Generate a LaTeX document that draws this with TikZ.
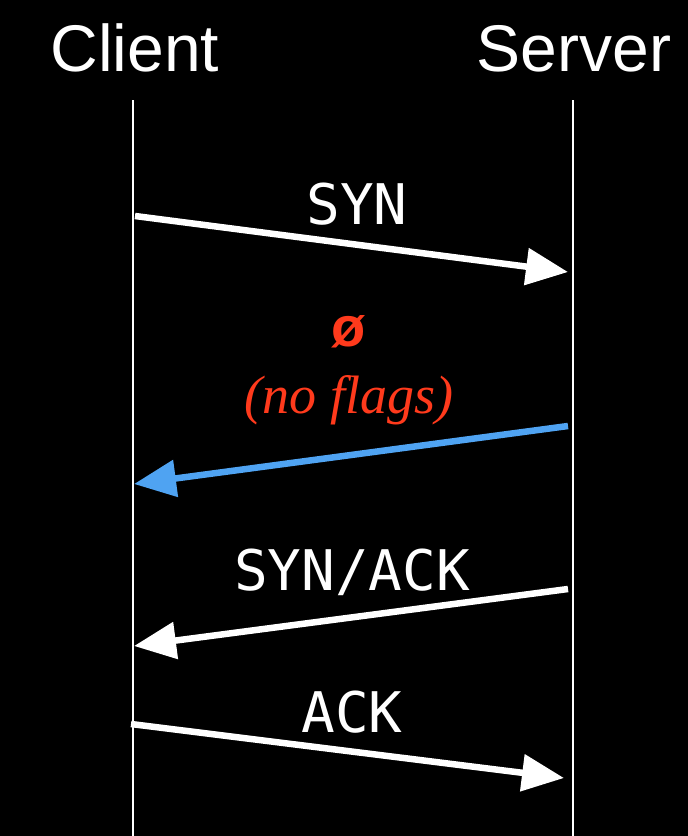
\documentclass[tikz,border=0pt]{standalone}
\usepackage{fontspec}
\setmainfont{Liberation Serif}
\newfontfamily\hssans{Liberation Sans}
\newfontfamily\hsmono{DejaVu Sans Mono}
\usetikzlibrary{arrows.meta}
\definecolor{hsvermelho}{HTML}{FF3A1C}
\definecolor{hsazul}{HTML}{4FA3F2}
\tikzset{
  hsparte/.style={text=white, font=\hssans\fontsize{66}{66}\selectfont, anchor=base, inner sep=0pt},
  hsrotulo/.style={text=white, font=\hsmono\fontsize{56}{56}\selectfont, anchor=base, inner sep=0pt},
  hsnota/.style={text=hsvermelho, anchor=base, inner sep=0pt},
  hsvida/.style={draw=white, line width=2.2pt},
  hsseta/.style={-{Triangle[length=42pt,width=36pt]}, line width=6.5pt, draw=white},
  hssetaazul/.style={hsseta, draw=hsazul},
}
\begin{document}
\begin{tikzpicture}[x=1pt, y=-1pt]
    % fundo
    \fill[black] (0,0) rectangle (688,836);
    \useasboundingbox (0,0) rectangle (688,836);
    % participantes
    \node[hsparte] (client) at (135,71) {Client};
    \node[hsparte] (server) at (574,71) {Server};
    % linhas de vida
    \coordinate (ctopo) at (133,100);
    \coordinate (cbase) at (133,836);
    \coordinate (stopo) at (573,100);
    \coordinate (sbase) at (573,836);
    \draw[hsvida] (ctopo) -- (cbase);
    \draw[hsvida] (stopo) -- (sbase);
    % pontos das mensagens
    \coordinate (c1) at (135,216);
    \coordinate (s1) at (568,272);
    \coordinate (s2) at (568,426);
    \coordinate (c2) at (134,484);
    \coordinate (s3) at (568,589);
    \coordinate (c3) at (134,646);
    \coordinate (c4) at (131,724);
    \coordinate (s4) at (564,778);
    % rotulos
    \node[hsrotulo] (syn) at (357,224) {SYN};
    \node[hsnota, font=\hssans\bfseries\fontsize{56}{56}\selectfont] (vazio) at (349,346) {ø};
    \node[hsnota, font=\itshape\fontsize{54}{54}\selectfont] (semflags) at (349,413) {(no flags)};
    \node[hsrotulo] (synack) at (352,590) {SYN/ACK};
    \node[hsrotulo] (ack) at (352,732) {ACK};
    % mensagens
    \draw[hsseta] (c1) -- (s1);
    \draw[hssetaazul] (s2) -- (c2);
    \draw[hsseta] (s3) -- (c3);
    \draw[hsseta] (c4) -- (s4);
\end{tikzpicture}
\end{document}
